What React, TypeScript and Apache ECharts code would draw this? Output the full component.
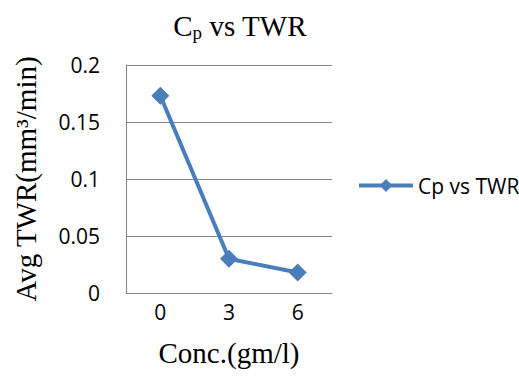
import React, { useEffect, useRef } from "react";
import * as echarts from "echarts";

const categories = ["0", "3", "6"];
const seriesName = "Cp vs TWR";
const values = [0.173, 0.03, 0.018];
const yMin = 0;
const yMax = 0.2;
const yInterval = 0.05;

export default function App() {
  const ref = useRef<HTMLDivElement>(null);
  useEffect(() => {
    if (!ref.current) return;
    const chart = echarts.init(ref.current, undefined, { renderer: "svg" });
    const gray = "#868686";
    const sans = "'Open Sans', 'Noto Sans', sans-serif";
    const serif = "'Liberation Serif', 'DejaVu Serif', serif";
    chart.setOption({
      animation: false,
      backgroundColor: "#ffffff",
      title: {
        text: "{a|C}{b|p}{a| vs TWR}",
        left: 235,
        top: 4,
        textAlign: "center",
        textStyle: {
          fontWeight: "normal",
          rich: {
            a: { fontFamily: serif, fontSize: 29, fontWeight: "normal", color: "#000" },
            b: { fontFamily: serif, fontSize: 19, fontWeight: "normal", color: "#000", padding: [14, 0, 0, 0] },
          },
        },
      },
      legend: {
        left: 352,
        top: 170,
        itemWidth: 54,
        itemHeight: 16,
        itemGap: 3,
        lineStyle: { width: 4 },
        textStyle: { fontFamily: sans, fontSize: 21, color: "#000" },
        data: [seriesName],
      },
      grid: { left: 126, right: 187, top: 65, bottom: 83 },
      xAxis: {
        type: "category",
        data: categories,
        name: "Conc.(gm/l)",
        nameLocation: "middle",
        nameGap: 45,
        nameTextStyle: { fontFamily: serif, fontSize: 29, color: "#000" },
        axisLine: { show: true, lineStyle: { color: gray, width: 1 } },
        axisTick: { show: false },
        axisLabel: { fontFamily: sans, fontSize: 21, color: "#000", margin: 8 },
      },
      yAxis: {
        type: "value",
        min: yMin,
        max: yMax,
        interval: yInterval,
        name: "Avg TWR(mm³/min)",
        nameLocation: "middle",
        nameGap: 86,
        nameTextStyle: { fontFamily: serif, fontSize: 29, color: "#000" },
        axisLine: { show: true, lineStyle: { color: gray, width: 1 } },
        axisTick: { show: false },
        axisLabel: { fontFamily: sans, fontSize: 21, color: "#000", margin: 26 },
        splitLine: { show: true, lineStyle: { color: gray, width: 1 } },
      },
      series: [
        {
          name: seriesName,
          type: "line",
          data: values,
          symbol: "diamond",
          symbolSize: 18,
          lineStyle: { color: "#4a7ebb", width: 4 },
          itemStyle: { color: "#4a7ebb" },
        },
      ],
    });
    return () => chart.dispose();
  }, []);
  return (
    <div
      ref={ref}
      style={{ position: "fixed", left: 0, top: 0, width: 519, height: 376 }}
    />
  );
}
